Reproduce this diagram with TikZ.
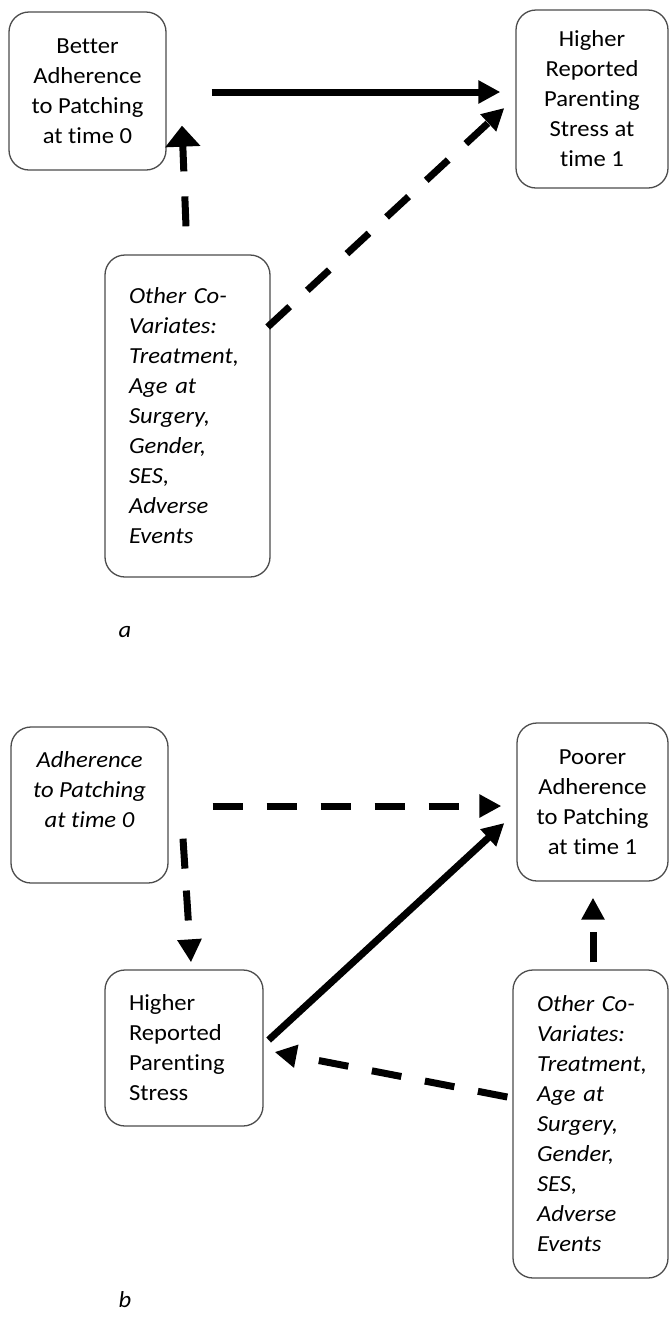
\documentclass[tikz,border=0pt]{standalone}
\usepackage{fontspec}
\setmainfont{Carlito}[FakeStretch=1.07, Ligatures=NoCommon]
\usetikzlibrary{arrows.meta,calc}
\begin{document}
\begin{tikzpicture}[x=1pt,y=-1pt,
  box/.style={draw=black!70, line width=1.3pt, rounded corners=20pt,
    font=\fontsize{23}{30}\selectfont, inner sep=0pt},
  cbox/.style={box, align=center},
  lbox/.style={box, align=left, inner xsep=24pt},
  conn/.style={line width=7pt, line cap=butt, -{Triangle[length=22pt,width=22pt]}},
  dconn/.style={conn, dash pattern=on 30pt off 24pt},
  lab/.style={font=\fontsize{23}{30}\selectfont\itshape, inner sep=0pt}
]
\useasboundingbox (0,0) rectangle (669,1331);

% ---- panel a ----
\node[cbox, minimum width=157pt, minimum height=158pt] (a1) at (87.5,91)
  {Better\\Adherence\\to Patching\\at time 0};
\node[cbox, minimum width=152pt, minimum height=178pt] (a2) at (592,99)
  {Higher\\Reported\\Parenting\\Stress at\\time 1};
\node[lbox, text width=117pt, minimum width=165pt, minimum height=322pt] (a3) at (187.5,416)
  {\itshape Other Co-\\Variates:\\Treatment,\\Age at\\Surgery,\\Gender,\\SES,\\Adverse\\Events};
\node[lab] (la) at (125,632) {a};

\coordinate (a12s) at ($(a1.east)+(45,1)$);
\coordinate (a12e) at ($(a2.west)+(-15,-7)$);
\draw[conn] (a12s) -- (a12e);

\coordinate (a31s) at ($(a3.north)+(-1.5,-28)$);
\coordinate (a31e) at ($(a1.south)+(94.5,-45)$);
\draw[line width=7pt, dash pattern=on 30pt off 25pt,
  -{Triangle[length=21pt,width=34pt]}] (a31s) -- (a31e);

\coordinate (a32s) at ($(a3.east)+(-3,-89)$);
\coordinate (a32e) at ($(a2.west)+(-11,9)$);
\draw[dconn] (a32s) -- (a32e);

% ---- panel b ----
\node[cbox, minimum width=157pt, minimum height=156pt] (b1) at (89.5,805)
  {\itshape Adherence\\\itshape to Patching\\\itshape at time 0\\ \phantom{x}};
\node[cbox, minimum width=151pt, minimum height=158pt] (b2) at (592.5,802)
  {Poorer\\Adherence\\to Patching\\at time 1};
\node[lbox, text width=110pt, minimum width=158pt, minimum height=156pt] (b3) at (184,1048)
  {Higher\\Reported\\Parenting\\Stress};
\node[lbox, text width=107pt, minimum width=155pt, minimum height=308pt] (b4) at (590.5,1124)
  {\itshape Other Co-\\Variates:\\Treatment,\\Age at\\Surgery,\\Gender,\\SES,\\Adverse\\Events};
\node[lab] (lb) at (125,1300) {b};

\coordinate (b12s) at ($(b1.east)+(44,1)$);
\coordinate (b12e) at ($(b2.west)+(-15,4)$);
\draw[dconn] (b12s) -- (b12e);

\coordinate (b13s) at ($(b1.south)+(93.5,-45)$);
\coordinate (b13e) at ($(b3.north)+(7,-7)$);
\draw[line width=7pt, dash pattern=on 30pt off 22pt,
  -{Triangle[length=23pt,width=23pt]}] (b13s) -- (b13e);

\coordinate (b32s) at ($(b3.east)+(5,-8)$);
\coordinate (b32e) at ($(b2.west)+(-12,21)$);
\draw[conn] (b32s) -- (b32e);

\coordinate (b43s) at ($(b4.west)+(-5,-27)$);
\coordinate (b43e) at ($(b3.east)+(11,4)$);
\draw[dconn] (b43s) -- (b43e);

\coordinate (b42s) at ($(b4.north)+(2.5,-7)$);
\coordinate (b42e) at ($(b2.south)+(0.5,16)$);
\draw[line width=7pt, dash pattern=on 30pt off 23pt,
  -{Triangle[length=22pt,width=22pt]}] (b42s) -- (b42e);
\end{tikzpicture}
\end{document}
